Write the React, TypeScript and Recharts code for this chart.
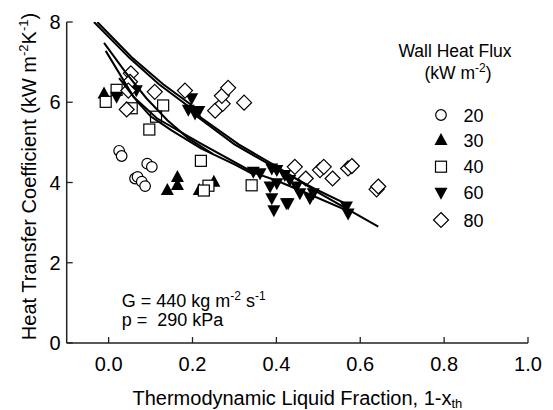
import React from "react";
import { ScatterChart, Scatter, XAxis, YAxis } from "recharts";

// ---- data ----
const flux20: [number, number][] = [
  [0.025, 4.79], [0.031, 4.66], [0.092, 4.47], [0.103, 4.39],
  [0.063, 4.1], [0.069, 4.14], [0.079, 4.02], [0.087, 3.91],
];
const flux30: [number, number][] = [
  [-0.011, 6.22], [0.164, 4.14], [0.164, 3.94], [0.14, 3.81],
  [0.251, 4.02], [0.216, 3.81],
];
const flux40: [number, number][] = [
  [-0.007, 6.01], [0.019, 6.31], [0.055, 5.85], [0.13, 5.92], [0.113, 5.64],
  [0.097, 5.32], [0.22, 4.54], [0.238, 3.92], [0.227, 3.8], [0.341, 3.93],
];
const flux60: [number, number][] = [
  [0.019, 6.14], [0.066, 6.3], [0.198, 6.1], [0.19, 5.81], [0.206, 5.72], [0.215, 5.78],
  [0.345, 4.27], [0.361, 4.23], [0.389, 4.35], [0.401, 4.31], [0.385, 3.9],
  [0.401, 3.98], [0.389, 3.61], [0.394, 3.31], [0.424, 3.48], [0.42, 4.19],
  [0.432, 4.06], [0.448, 3.9], [0.456, 3.73], [0.428, 3.48], [0.48, 3.61],
  [0.488, 3.73], [0.567, 3.4], [0.571, 3.23],
];
const flux80: [number, number][] = [
  [0.053, 6.72], [0.051, 6.51], [0.047, 6.29], [0.043, 5.82], [0.11, 6.26],
  [0.182, 6.29], [0.254, 5.79], [0.272, 5.96], [0.27, 6.16], [0.285, 6.36],
  [0.323, 5.99], [0.444, 4.39], [0.47, 4.1], [0.504, 4.31], [0.513, 4.39],
  [0.534, 4.1], [0.571, 4.35], [0.58, 4.41], [0.639, 3.83], [0.643, 3.9],
];
const curveA: [number, number][] = [
  [-0.035, 8.0], [0.05, 7.1], [0.12, 6.45], [0.19, 5.9], [0.21, 5.65],
  [0.3, 4.95], [0.4, 4.35], [0.5, 3.8], [0.57, 3.45],
];
const curveB: [number, number][] = [
  [-0.027, 8.0], [0.055, 7.12], [0.13, 6.45], [0.195, 5.95], [0.22, 5.62],
  [0.31, 4.95], [0.4, 4.4], [0.5, 3.75], [0.643, 2.9],
];
const curveC: [number, number][] = [
  [-0.011, 7.48], [0.04, 6.75], [0.09, 6.1], [0.14, 5.55], [0.19, 5.1], [0.249, 4.71],
];
const curveD: [number, number][] = [
  [-0.007, 7.28], [0.059, 6.14], [0.115, 5.6], [0.218, 4.98], [0.345, 4.25],
  [0.4, 4.05], [0.48, 3.7], [0.58, 3.25],
];
const curveE: [number, number][] = [
  [0.025, 6.6], [0.07, 6.0], [0.1, 5.65], [0.15, 5.3], [0.22, 4.85], [0.3, 4.45], [0.345, 4.2],
];
const xTicks = [0, 0.2, 0.4, 0.6, 0.8, 1.0];
const yTicks = [0, 2, 4, 6, 8];
const legendLabels = ["20", "30", "40", "60", "80"];

const toPts = (a: [number, number][]) => a.map(([x, y]) => ({ x, y }));

const FONT = "'Liberation Sans', Arial, sans-serif";
const AX = "#222";

// ---- marker shapes ----
const Circ = (cx: number, cy: number) => (
  <circle cx={cx} cy={cy} r={5.3} fill="#fff" stroke="#000" strokeWidth={1.2} />
);
const TriUp = (cx: number, cy: number) => (
  <polygon points={`${cx},${cy - 7} ${cx - 6.5},${cy + 5} ${cx + 6.5},${cy + 5}`} fill="#000" />
);
const Sq = (cx: number, cy: number) => (
  <rect x={cx - 5.5} y={cy - 5.5} width={11} height={11} fill="#fff" stroke="#000" strokeWidth={1.2} />
);
const TriDown = (cx: number, cy: number) => (
  <polygon points={`${cx - 6.5},${cy - 5} ${cx + 6.5},${cy - 5} ${cx},${cy + 7}`} fill="#000" />
);
const Dia = (cx: number, cy: number) => (
  <polygon
    points={`${cx},${cy - 7.5} ${cx + 7.5},${cy} ${cx},${cy + 7.5} ${cx - 7.5},${cy}`}
    fill="#fff"
    stroke="#000"
    strokeWidth={1.2}
  />
);
const shapes = [Circ, TriUp, Sq, TriDown, Dia];
const mk = (f: (cx: number, cy: number) => React.ReactElement) => (p: any) => f(p.cx, p.cy);
const NoShape = () => <g />;

// ---- ticks (inward) ----
const BottomTick = (p: any) => (
  <g>
    <line x1={p.x} y1={p.y} x2={p.x} y2={p.y - 6} stroke={AX} strokeWidth={1.3} />
    <text x={p.x} y={p.y + 27.5} textAnchor="middle" fontSize={20} fontFamily={FONT} fill="#000">
      {Number(p.payload.value).toFixed(1)}
    </text>
  </g>
);
const LeftTick = (p: any) => (
  <g>
    <line x1={p.x} y1={p.y} x2={p.x + 6} y2={p.y} stroke={AX} strokeWidth={1.3} />
    <text x={p.x - 6} y={p.y + 7.2} textAnchor="end" fontSize={20} fontFamily={FONT} fill="#000">
      {String(p.payload.value)}
    </text>
  </g>
);
const TopTick = (p: any) => (
  <line x1={p.x} y1={p.y} x2={p.x} y2={p.y + 6} stroke={AX} strokeWidth={1.3} />
);
const RightTick = (p: any) => (
  <line x1={p.x} y1={p.y} x2={p.x - 6} y2={p.y} stroke={AX} strokeWidth={1.3} />
);

const legendRows = [115, 140, 166.7, 192.7, 220];

export default function App() {
  const lineStyle = { stroke: "#000", strokeWidth: 2 };
  return (
    <div style={{ position: "absolute", left: 0, top: 0 }}>
      <ScatterChart width={553} height={410} margin={{ top: 22, right: 25, bottom: 0, left: 0 }}>
        <XAxis
          xAxisId="b"
          type="number"
          dataKey="x"
          domain={[-0.1, 1.0]}
          ticks={xTicks}
          allowDataOverflow
          height={67}
          tickSize={0}
          tickMargin={0}
          tick={BottomTick}
          axisLine={{ stroke: AX, strokeWidth: 1.5 }}
          interval={0}
        />
        <XAxis
          xAxisId="t"
          orientation="top"
          type="number"
          dataKey="x"
          domain={[-0.1, 1.0]}
          ticks={xTicks}
          allowDataOverflow
          height={0}
          tickSize={0}
          tickMargin={0}
          tick={TopTick}
          axisLine={{ stroke: AX, strokeWidth: 1.5 }}
          interval={0}
        />
        <YAxis
          yAxisId="l"
          type="number"
          dataKey="y"
          domain={[0, 8]}
          ticks={yTicks}
          allowDataOverflow
          width={66.7}
          tickSize={0}
          tickMargin={0}
          tick={LeftTick}
          axisLine={{ stroke: AX, strokeWidth: 1.5 }}
          interval={0}
        />
        <YAxis
          yAxisId="r"
          orientation="right"
          type="number"
          dataKey="y"
          domain={[0, 8]}
          ticks={yTicks}
          allowDataOverflow
          width={0}
          tickSize={0}
          tickMargin={0}
          tick={RightTick}
          axisLine={{ stroke: AX, strokeWidth: 1.5 }}
          interval={0}
        />
        {[flux20, flux30, flux40, flux60, flux80].map((d, i) => (
          <Scatter
            key={"s" + i}
            xAxisId="b"
            yAxisId="l"
            name={legendLabels[i]}
            data={toPts(d)}
            shape={mk(shapes[i])}
            isAnimationActive={false}
          />
        ))}
        {[curveA, curveB, curveC, curveD, curveE].map((d, i) => (
          <Scatter
            key={"c" + i}
            xAxisId="b"
            yAxisId="l"
            data={toPts(d)}
            line={lineStyle}
            lineType="joint"
            shape={NoShape}
            isAnimationActive={false}
          />
        ))}
        <text x={297.4} y={405} textAnchor="middle" fontSize={20} fontFamily={FONT} fill="#000">
          Thermodynamic Liquid Fraction, 1-x
          <tspan fontSize={13} dy={3}>th</tspan>
        </text>
        <text
          transform="translate(36,176.5) rotate(-90)"
          x={0}
          y={0}
          textAnchor="middle"
          fontSize={20}
          fontFamily={FONT}
          fill="#000"
        >
          Heat Transfer Coefficient (kW m
          <tspan fontSize={13} dy={-8}>-2</tspan>
          <tspan dy={8}>K</tspan>
          <tspan fontSize={13} dy={-8}>-1</tspan>
          <tspan dy={8}>)</tspan>
        </text>
        <text x={121.7} y={307} fontSize={18} fontFamily={FONT} fill="#000">
          G = 440 kg m<tspan fontSize={12} dy={-7}>-2</tspan>
          <tspan dy={7}> s</tspan>
          <tspan fontSize={12} dy={-7}>-1</tspan>
        </text>
        <text x={121.7} y={326} fontSize={18} fontFamily={FONT} fill="#000" style={{ whiteSpace: "pre" }}>
          {"p =  290 kPa"}
        </text>
        <text x={455} y={57} textAnchor="middle" fontSize={17.5} fontFamily={FONT} fill="#000">
          Wall Heat Flux
        </text>
        <text x={458} y={79} textAnchor="middle" fontSize={17.5} fontFamily={FONT} fill="#000">
          (kW m<tspan fontSize={12} dy={-7}>-2</tspan>
          <tspan dy={7}>)</tspan>
        </text>
        {legendRows.map((cy, i) => (
          <g key={"lg" + i}>
            {shapes[i](441, cy)}
            <text x={463.5} y={cy + 6.5} fontSize={18} fontFamily={FONT} fill="#000">
              {legendLabels[i]}
            </text>
          </g>
        ))}
      </ScatterChart>
    </div>
  );
}
